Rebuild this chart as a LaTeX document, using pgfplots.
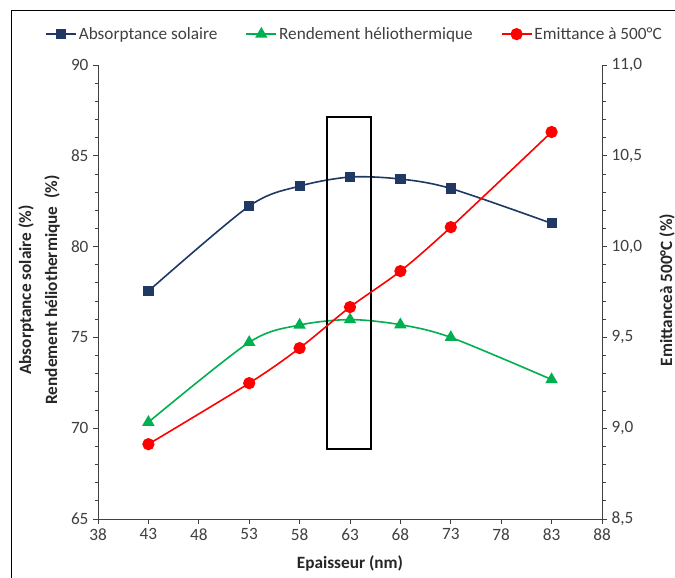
\documentclass[border=0pt]{standalone}
\usepackage{pgfplots}
\pgfplotsset{compat=1.18}
\usepackage{fontspec}
\setmainfont{Carlito}
\definecolor{cnavy}{HTML}{203864}
\definecolor{cgreen}{HTML}{00B050}
\definecolor{cred}{HTML}{FF0000}
\definecolor{ctick}{HTML}{404040}
\begin{document}
\begin{tikzpicture}
\useasboundingbox (0,0) rectangle (675bp,578bp);
\fill[white] (0,0) rectangle (675bp,578bp);
\draw[line width=1bp] (11bp,0) -- (11bp,567.3bp) -- (676bp,567.3bp);
\pgfplotsset{
  common/.style={
    at={(98bp,59bp)}, anchor=south west,
    scale only axis, width=504bp, height=454bp,
    xmin=38, xmax=88,
    tick align=outside,
    major tick length=5bp, minor tick length=3.5bp,
    every tick/.style={black!75, line width=0.9bp},
    axis line style={black!75, line width=0.9bp},
    tick label style={font=\fontsize{17.3}{19}\selectfont, text=ctick},
    /pgf/number format/assume math mode=true,
    clip=false,
  }
}
\begin{axis}[common,
  axis x line*=bottom, axis y line*=left,
  xtick={38,43,...,88},
  ymin=65, ymax=90, ytick={65,70,...,90}, minor y tick num=4,
  xtick style={draw=black!75},
  yticklabel style={xshift=-1bp},
  xticklabel style={yshift=-1bp},
]
\addplot[cnavy, line width=1.6bp, smooth, tension=0.5, mark=square*, mark size=4.3bp, mark options={solid}]
  coordinates {(43,77.55) (53,82.23) (58,83.33) (63,83.83) (68,83.72) (73,83.2) (83,81.28)};
\addplot[cgreen, line width=1.6bp, smooth, tension=0.5, mark=triangle*, mark size=5.6bp, mark options={solid}]
  coordinates {(43,70.33) (53,74.73) (58,75.68) (63,75.98) (68,75.7) (73,75.0) (83,72.68)};
\draw[black, line width=2.2bp] (axis cs:60.75,68.85) rectangle (axis cs:65.08,87.15);
\end{axis}
\begin{axis}[common,
  axis x line=none, axis y line*=right,
  ymin=8.5, ymax=11, ytick={8.5,9,...,11}, minor y tick num=4,
  yticklabel style={xshift=1bp, /pgf/number format/.cd, fixed, fixed zerofill, precision=1, use comma},
  legend columns=3,
  legend style={at={(-0.1052,1.068)}, anchor=west, draw=none, fill=none, inner sep=0pt,
    font=\fontsize{17.3}{19}\selectfont, text=ctick,
    nodes={inner sep=1bp},
    /tikz/every odd column/.append style={column sep=1bp},
    /tikz/every even column/.append style={column sep=27bp}},
  legend image code/.code={\draw[mark repeat=2, mark phase=2, #1] plot coordinates {(0bp,0bp) (15bp,0bp) (30bp,0bp)};},
]
\addlegendimage{cnavy, line width=1.6bp, mark=square*, mark size=4.3bp}
\addlegendentry{Absorptance solaire}
\addlegendimage{cgreen, line width=1.6bp, mark=triangle*, mark size=5.6bp}
\addlegendentry{Rendement héliothermique}
\addplot[cred, line width=1.6bp, smooth, tension=0.5, mark=*, mark size=5.3bp, mark options={solid}]
  coordinates {(43,8.912) (53,9.248) (58,9.441) (63,9.667) (68,9.865) (73,10.107) (83,10.631)};
\addlegendentry{Emittance à 500°C}
\end{axis}
\node[rotate=90, font=\bfseries\fontsize{17.3}{19}\selectfont, text=black!85] at (26bp,288bp) {Absorptance solaire (\%)};
\node[rotate=90, font=\bfseries\fontsize{17.3}{19}\selectfont, text=black!85] at (52bp,288bp) {Rendement héliothermique~~(\%)};
\node[rotate=90, font=\bfseries\fontsize{17.3}{19}\selectfont, text=black!85] at (667bp,288bp) {Emittanceà 500°C (\%)};
\node[font=\bfseries\fontsize{17.3}{19}\selectfont, text=black!85] at (350bp,15bp) {Epaisseur (nm)};
\end{tikzpicture}
\end{document}
